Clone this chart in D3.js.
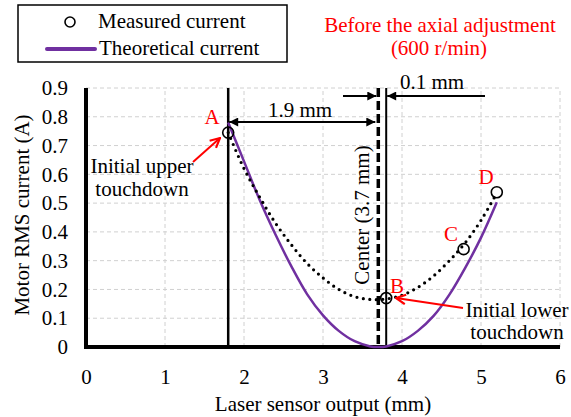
<!DOCTYPE html>
<html><head><meta charset="utf-8">
<script src="https://cdn.jsdelivr.net/npm/d3@7"></script>
<style>body{margin:0;background:#fff}svg{display:block}text{font-family:"Liberation Serif","Times New Roman",serif}</style>
</head><body><svg id="c" width="571" height="417"></svg>
<script>
const xTicks = [0,1,2,3,4,5,6];
const yTicks = [0,0.1,0.2,0.3,0.4,0.5,0.6,0.7,0.8,0.9];
const yTickLabels = ["0","0.1","0.2","0.3","0.4","0.5","0.6","0.7","0.8","0.9"];
const measuredX = [1.8, 3.8, 4.78, 5.2];
const measuredY = [0.745, 0.17, 0.34, 0.538];
const measuredLabels = ["A","B","C","D"];
const trendX = [1.8,2.0,2.2,2.4,2.6,2.8,3.0,3.2,3.4,3.6,3.8,4.0,4.2,4.4,4.6,4.8,5.0,5.2];
const trendY = [0.745,0.62,0.52,0.43,0.355,0.29,0.24,0.2,0.175,0.165,0.167,0.18,0.207,0.247,0.3,0.362,0.44,0.535];
const theoX = [1.8,2.0,2.2,2.4,2.6,2.8,3.0,3.2,3.4,3.6,3.7,3.8,4.0,4.2,4.4,4.6,4.8,5.0,5.2];
const theoY = [0.78,0.645,0.51,0.39,0.28,0.183,0.11,0.056,0.02,0.002,0,0.002,0.02,0.056,0.108,0.182,0.275,0.38,0.503];
const upperX = 1.8, centerX = 3.7, lowerX = 3.8;

const svg = d3.select("#c");
const x = d3.scaleLinear().domain([0,6]).range([86,560]);
const y = d3.scaleLinear().domain([0,0.9]).range([347,88]);
const font = "Liberation Serif";
const FS = 21;

// grid
svg.append("g").selectAll("line").data(yTicks.slice(1)).join("line")
  .attr("x1",x(0)).attr("x2",x(6)).attr("y1",d=>y(d)).attr("y2",d=>y(d))
  .attr("stroke","#d0d0d0").attr("stroke-width",1).attr("stroke-dasharray","4,3");
svg.append("g").selectAll("line").data(xTicks.slice(1)).join("line")
  .attr("x1",d=>x(d)).attr("x2",d=>x(d)).attr("y1",y(0)).attr("y2",y(0.9))
  .attr("stroke","#d0d0d0").attr("stroke-width",1).attr("stroke-dasharray","4,3");

// axes
const xAxis = d3.axisBottom(x).tickValues(xTicks).tickSize(0).tickPadding(22).tickFormat(d3.format("d"));
const gx = svg.append("g").attr("transform",`translate(0,${y(0)})`).call(xAxis);
gx.select(".domain").remove();
gx.selectAll("text").attr("font-family",font).attr("font-size",FS).attr("fill","#000");
const yAxis = d3.axisLeft(y).tickValues(yTicks).tickSize(0).tickPadding(18).tickFormat((d,i)=>yTickLabels[i]);
const gy = svg.append("g").attr("transform",`translate(${x(0)},0)`).call(yAxis);
gy.select(".domain").remove();
gy.selectAll("text").attr("font-family",font).attr("font-size",FS).attr("fill","#000");

svg.append("line").attr("x1",x(0)).attr("x2",x(0)).attr("y1",y(0.9)).attr("y2",y(0)+2)
  .attr("stroke","#000").attr("stroke-width",4);
svg.append("line").attr("x1",x(0)-2).attr("x2",x(6)).attr("y1",y(0)).attr("y2",y(0))
  .attr("stroke","#000").attr("stroke-width",4);

// vertical marker lines
svg.append("line").attr("x1",x(upperX)).attr("x2",x(upperX)).attr("y1",y(0.9)).attr("y2",y(0))
  .attr("stroke","#000").attr("stroke-width",2.5);
svg.append("line").attr("x1",x(centerX)).attr("x2",x(centerX)).attr("y1",y(0.9)).attr("y2",y(0))
  .attr("stroke","#000").attr("stroke-width",3.5).attr("stroke-dasharray","9,4");
svg.append("line").attr("x1",x(lowerX)).attr("x2",x(lowerX)).attr("y1",y(0.9)).attr("y2",y(0))
  .attr("stroke","#000").attr("stroke-width",2);

// theoretical curve
const theo = theoX.map((d,i)=>[d,theoY[i]]);
svg.append("path").datum(theo)
  .attr("d",d3.line().x(d=>x(d[0])).y(d=>y(d[1])).curve(d3.curveCatmullRom))
  .attr("fill","none").attr("stroke","#7030A0").attr("stroke-width",2.5);

// trend dotted
const trend = trendX.map((d,i)=>[d,trendY[i]]);
svg.append("path").datum(trend)
  .attr("d",d3.line().x(d=>x(d[0])).y(d=>y(d[1])).curve(d3.curveCatmullRom))
  .attr("fill","none").attr("stroke","#000").attr("stroke-width",3.2)
  .attr("stroke-linecap","round").attr("stroke-dasharray","0,6.5");

// measured points
svg.append("g").selectAll("circle").data(measuredX).join("circle")
  .attr("cx",d=>x(d)).attr("cy",(d,i)=>y(measuredY[i])).attr("r",5.5)
  .attr("fill","none").attr("stroke","#000").attr("stroke-width",1.6);

// point labels
const labelPos = [[212,124],[397,293],[451,241],[486,184]];
svg.append("g").selectAll("text").data(measuredLabels).join("text")
  .attr("x",(d,i)=>labelPos[i][0]).attr("y",(d,i)=>labelPos[i][1])
  .attr("text-anchor","middle").attr("font-size",FS).attr("fill","#ff0000").text(d=>d);

// arrows
const defs = svg.append("defs");
defs.append("marker").attr("id","ah").attr("viewBox","0 0 10 10").attr("refX",10).attr("refY",5)
  .attr("markerWidth",11).attr("markerHeight",9).attr("markerUnits","userSpaceOnUse").attr("orient","auto-start-reverse")
  .append("path").attr("d","M0,0L10,5L0,10z").attr("fill","#000");
defs.append("marker").attr("id","rh").attr("viewBox","0 0 10 10").attr("refX",9).attr("refY",5)
  .attr("markerWidth",12).attr("markerHeight",12).attr("markerUnits","userSpaceOnUse").attr("orient","auto")
  .append("path").attr("d","M1,1L9,5L1,9").attr("fill","none").attr("stroke","#ff0000").attr("stroke-width",1.8);

// 1.9 mm
svg.append("line").attr("x1",x(upperX)+1).attr("x2",x(centerX)-3).attr("y1",122).attr("y2",122)
  .attr("stroke","#000").attr("stroke-width",2).attr("marker-start","url(#ah)").attr("marker-end","url(#ah)");
svg.append("text").attr("x",300).attr("y",117).attr("text-anchor","middle").attr("font-size",FS).text("1.9 mm");
// 0.1 mm
svg.append("line").attr("x1",343).attr("x2",x(centerX)-2).attr("y1",96).attr("y2",96)
  .attr("stroke","#000").attr("stroke-width",2).attr("marker-end","url(#ah)");
svg.append("line").attr("x1",485).attr("x2",x(lowerX)+1).attr("y1",96).attr("y2",96)
  .attr("stroke","#000").attr("stroke-width",2).attr("marker-end","url(#ah)");
svg.append("text").attr("x",432).attr("y",89).attr("text-anchor","middle").attr("font-size",FS).text("0.1 mm");

// Center label
svg.append("text").attr("transform","translate(369,215) rotate(-90)").attr("text-anchor","middle")
  .attr("font-size",FS).text("Center (3.7 mm)");

// red annotation arrows
svg.append("line").attr("x1",193).attr("y1",162).attr("x2",220).attr("y2",138)
  .attr("stroke","#ff0000").attr("stroke-width",2).attr("marker-end","url(#rh)");
svg.append("line").attr("x1",463).attr("y1",308).attr("x2",396).attr("y2",298)
  .attr("stroke","#ff0000").attr("stroke-width",2).attr("marker-end","url(#rh)");

svg.append("text").attr("x",142).attr("y",173).attr("text-anchor","middle").attr("font-size",FS).text("Initial upper");
svg.append("text").attr("x",142).attr("y",196).attr("text-anchor","middle").attr("font-size",FS).text("touchdown");
svg.append("text").attr("x",517).attr("y",317).attr("text-anchor","middle").attr("font-size",FS).text("Initial lower");
svg.append("text").attr("x",517).attr("y",339).attr("text-anchor","middle").attr("font-size",FS).text("touchdown");

// title
svg.append("text").attr("x",440).attr("y",32).attr("text-anchor","middle").attr("font-size",FS).attr("fill","#ff0000").text("Before the axial adjustment");
svg.append("text").attr("x",439).attr("y",55).attr("text-anchor","middle").attr("font-size",FS).attr("fill","#ff0000").text("(600 r/min)");

// axis titles
svg.append("text").attr("x",323).attr("y",411).attr("text-anchor","middle").attr("font-size",FS).text("Laser sensor output (mm)");
svg.append("text").attr("transform","translate(29,215) rotate(-90)").attr("text-anchor","middle").attr("font-size",FS).text("Motor RMS current (A)");

// legend
svg.append("rect").attr("x",18).attr("y",5).attr("width",269).attr("height",57).attr("fill","#fff").attr("stroke","#000").attr("stroke-width",1.5);
svg.append("circle").attr("cx",70).attr("cy",22).attr("r",5).attr("fill","none").attr("stroke","#000").attr("stroke-width",1.6);
svg.append("text").attr("x",98).attr("y",28).attr("font-size",FS).text("Measured current");
svg.append("line").attr("x1",47).attr("x2",95).attr("y1",49).attr("y2",49).attr("stroke","#7030A0").attr("stroke-width",4).attr("stroke-linecap","round");
svg.append("text").attr("x",99).attr("y",55).attr("font-size",FS).text("Theoretical current");
</script></body></html>
